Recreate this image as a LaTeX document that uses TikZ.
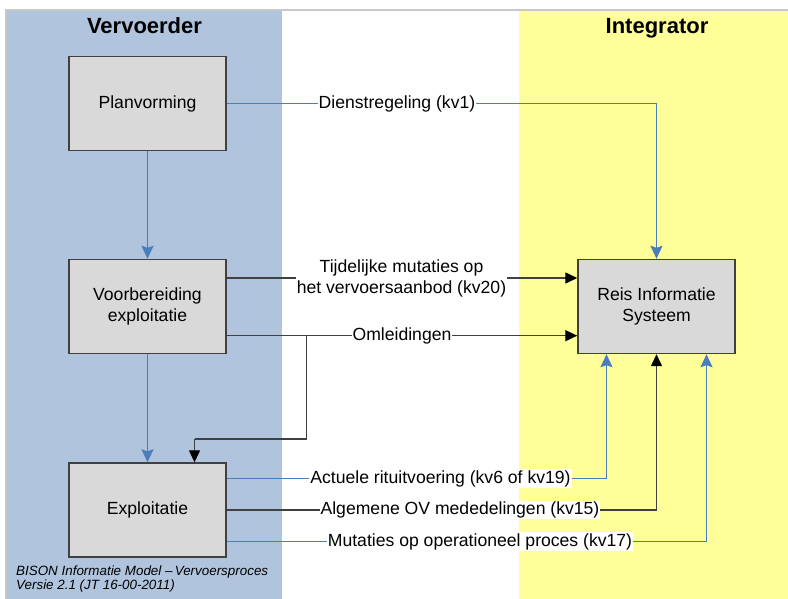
\documentclass[tikz,border=0pt]{standalone}
\usepackage{fontspec}
\setmainfont{Liberation Sans}
\usetikzlibrary{arrows.meta}
\definecolor{colblue}{HTML}{B0C4DE}
\definecolor{colyellow}{HTML}{FFFF99}
\definecolor{boxfill}{HTML}{D9D9D9}
\definecolor{linkblue}{HTML}{4A7EBB}
\definecolor{darkline}{HTML}{404040}
\definecolor{framegray}{HTML}{C8C8C8}
\begin{document}
\begin{tikzpicture}[x=1pt,y=-1pt,
  procbox/.style={draw=darkline, line width=1.4pt, fill=boxfill, minimum width=157pt, minimum height=94pt, align=center, inner sep=0pt, font=\fontsize{17.6}{21.5}\selectfont},
  bluelink/.style={draw=linkblue, line width=1.6pt, -{Stealth[length=13pt,width=12pt,inset=2pt]}},
  blacklink/.style={draw=darkline, line width=1.3pt, -{Triangle[length=12pt,width=11pt,fill=black,color=black]}},
  darkseg/.style={draw=darkline, line width=1.3pt},
  lbl/.style={fill=white, inner sep=1pt, align=center, font=\fontsize{17.6}{21.5}\selectfont},
  coltitle/.style={font=\bfseries\fontsize{22}{26}\selectfont, anchor=base},
  footer/.style={font=\itshape\fontsize{13.4}{14.5}\selectfont, anchor=base west, inner sep=0pt}
]
\useasboundingbox (0,0) rectangle (788,599);
% columns
\fill[colblue] (6,10) rectangle (282,599);
\fill[colyellow] (519,10) rectangle (788,599);
\draw[framegray, line width=2pt] (6,599) -- (6,10) -- (788,10);
% titles
\node[coltitle] (t1) at (144.5,33.5) {Vervoerder};
\node[coltitle] (t2) at (657,33.5) {Integrator};
% boxes
\node[procbox] (plan) at (147.5,103.5) {Planvorming};
\node[procbox] (vb) at (147.5,306.5) {Voorbereiding\\exploitatie};
\node[procbox] (expl) at (147.5,510) {Exploitatie};
\node[procbox] (ris) at (656.5,306.5) {Reis Informatie\\Systeem};
% vertical flow
\draw[bluelink] (plan) -- (vb);
\draw[bluelink] (vb) -- (expl);
% Dienstregeling
\draw[bluelink] (plan.east) -| (ris.north);
\node[lbl] (l1) at (397,103.5) {Dienstregeling (kv1)};
% Tijdelijke mutaties
\draw[blacklink] ([yshift=28.5pt]vb.east) -- ([yshift=28.5pt]ris.west);
\node[lbl] (l2) at (401.5,278.5) {Tijdelijke mutaties op\\het vervoersaanbod (kv20)};
% Omleidingen
\draw[blacklink] ([yshift=-29.2pt]vb.east) -- ([yshift=-29.2pt]ris.west);
\coordinate (j) at (306.5,335.7);
\coordinate (k) at (194.5,439);
\draw[darkseg] (j) |- (k);
\draw[blacklink] (k) -- (k |- expl.north);
\node[lbl] (l3) at (402,335.7) {Omleidingen};
% Exploitatie outputs
\draw[bluelink] ([yshift=31.5pt]expl.east) -| ([xshift=-50pt]ris.south);
\draw[blacklink] (expl.east) -| (ris.south);
\draw[bluelink] ([yshift=-31.5pt]expl.east) -| ([xshift=50pt]ris.south);
\node[lbl] (l4) at (440.5,478.5) {Actuele rituitvoering (kv6 of kv19)};
\node[lbl] (l5) at (460,510) {Algemene OV mededelingen (kv15)};
\node[lbl] (l6) at (480,541.5) {Mutaties op operationeel proces (kv17)};
% footer
\node[footer] (f1) at (16,575) {BISON Informatie Model –\,Vervoersproces};
\node[footer] (f2) at (16,589.5) {Versie 2.1 (JT 16-00-2011)};
\end{tikzpicture}
\end{document}
